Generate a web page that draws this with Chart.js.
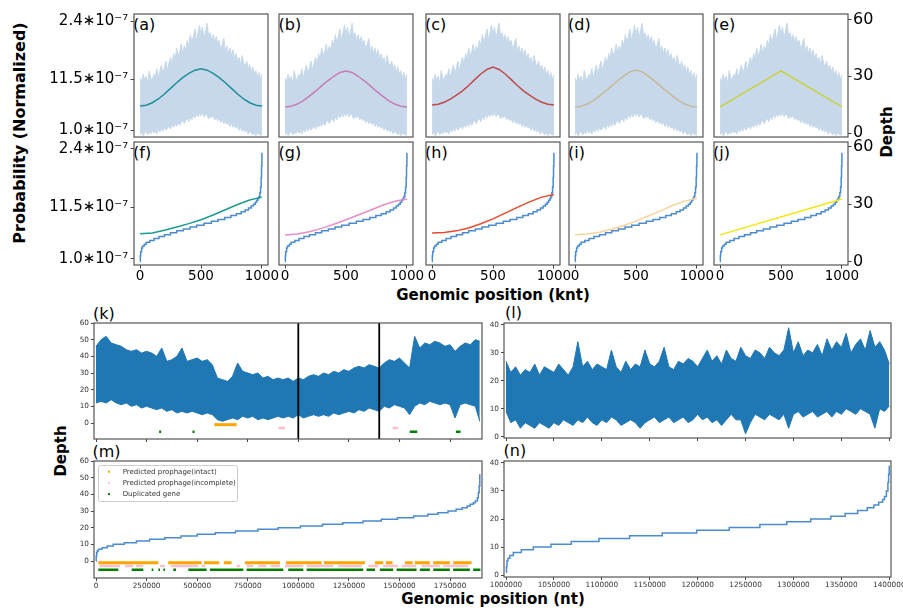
<!DOCTYPE html>
<html>
<head>
<meta charset="utf-8">
<title>Depth and probability</title>
<script src="https://cdn.jsdelivr.net/npm/chart.js@4.4.1/dist/chart.umd.min.js"></script>
<style>
  html, body { margin: 0; padding: 0; background: #fff; }
  body { position: relative; width: 903px; height: 611px; overflow: hidden; font-family: 'DejaVu Sans', sans-serif; }
  canvas { position: absolute; }
  .t { position: absolute; white-space: nowrap; color: #000; line-height: 1; font-size: 16px; }
  .b { font-weight: bold; font-size: 15px; }
  .c { transform: translate(-50%, -50%); }
  .r { transform: translate(-50%, -50%) rotate(-90deg); }
</style>
</head>
<body>
<div class="t b r" style="left:20px;top:133px;font-size:16px">Probability (Normalized)</div>
<div class="t b r" style="left:887px;top:132px">Depth</div>
<div class="t b c" style="left:493px;top:294.5px">Genomic position (knt)</div>
<div class="t b r" style="left:61px;top:451px">Depth</div>
<div class="t b c" style="left:493px;top:599px">Genomic position (nt)</div>

<div class="t" style="left:133px;top:16.7px">(a)</div>
<div class="t" style="left:278.5px;top:16.7px">(b)</div>
<div class="t" style="left:425px;top:16.7px">(c)</div>
<div class="t" style="left:568px;top:16.7px">(d)</div>
<div class="t" style="left:713px;top:16.7px">(e)</div>
<div class="t" style="left:133px;top:145.4px">(f)</div>
<div class="t" style="left:278.5px;top:145.4px">(g)</div>
<div class="t" style="left:425px;top:145.4px">(h)</div>
<div class="t" style="left:568px;top:145.4px">(i)</div>
<div class="t" style="left:713px;top:145.4px">(j)</div>
<div class="t" style="left:93px;top:305.7px">(k)</div>
<div class="t" style="left:505px;top:304.7px">(l)</div>
<div class="t" style="left:92.5px;top:443.7px">(m)</div>
<div class="t" style="left:503.5px;top:442.7px">(n)</div>

<script>
// ---------- top rows: simulated genomes, position in knt ----------
const bandX = [0, 12.5, 25, 37.5, 50, 62.5, 75, 87.5, 100, 112.5,
  125, 137.5, 150, 162.5, 175, 187.5, 200, 212.5, 225, 237.5,
  250, 262.5, 275, 287.5, 300, 312.5, 325, 337.5, 350, 362.5,
  375, 387.5, 400, 412.5, 425, 437.5, 450, 462.5, 475, 487.5,
  500, 512.5, 525, 537.5, 550, 562.5, 575, 587.5, 600, 612.5,
  625, 637.5, 650, 662.5, 675, 687.5, 700, 712.5, 725, 737.5,
  750, 762.5, 775, 787.5, 800, 812.5, 825, 837.5, 850, 862.5,
  875, 887.5, 900, 912.5, 925, 937.5, 950, 962.5, 975, 987.5,
  1000];
const bandHi = [29, 27, 31, 28, 30, 26, 33, 29, 28, 31,
  30, 34, 29, 33, 36, 31, 35, 38, 33, 37,
  40, 36, 42, 39, 45, 41, 43, 47, 42, 46,
  44, 49, 46, 52, 48, 51, 55, 49, 53, 57,
  52, 56, 50, 54, 58, 51, 53, 49, 52, 48,
  51, 47, 49, 44, 47, 50, 43, 46, 42, 45,
  41, 44, 39, 42, 38, 40, 36, 41, 37, 35,
  38, 34, 36, 32, 35, 31, 33, 29, 32, 28,
  31];
const bandLo = [-1, 0.5, -1.5, 0, 1, -1, 0.5, -0.5, 1.5, 0,
  1, -0.5, 2, 0.5, 2.5, 1, 3, 1.5, 2.5, 4,
  2, 4.5, 3, 5, 3.5, 6, 4, 5.5, 7, 5,
  6.5, 8, 6, 8.5, 7, 9.5, 8, 10, 8.5, 10.5,
  9, 11, 8.5, 10, 9.5, 7.5, 9, 8, 9.5, 7,
  8, 6.5, 7.5, 5.5, 7, 5, 6, 4.5, 5.5, 3.5,
  5, 3, 4, 2.5, 3.5, 1.5, 3, 1, 2, 0.5,
  1.5, -0.5, 1, 0, -1, 0.5, -1.5, 0, -0.5, -1,
  -1];

const bellX = [0, 50, 100, 150, 200, 250, 300, 350, 400, 450, 500,
  550, 600, 650, 700, 750, 800, 850, 900, 950, 1000];
const bellA = [14.3, 14.7, 16.0, 18.0, 20.6, 23.6, 26.6, 29.3, 31.5, 33.2, 33.9,
  33.2, 31.5, 29.3, 26.6, 23.6, 20.6, 18.0, 16.0, 14.7, 14.3];
const bellB = [13.8, 14.2, 15.3, 17.1, 19.5, 22.1, 24.9, 27.6, 30.0, 32.0, 32.8,
  32.0, 30.0, 27.6, 24.9, 22.1, 19.5, 17.1, 15.3, 14.2, 13.8];
const bellC = [14.8, 15.2, 16.3, 17.9, 20.0, 22.3, 25.1, 28.2, 31.2, 33.6, 34.9,
  33.6, 31.2, 28.2, 25.1, 22.3, 20.0, 17.9, 16.3, 15.2, 14.8];
const bellD = [13.8, 14.2, 15.3, 17.1, 19.5, 22.1, 24.9, 27.6, 30.2, 32.3, 33.3,
  32.3, 30.2, 27.6, 24.9, 22.1, 19.5, 17.1, 15.3, 14.2, 13.8];
const triX = [0, 500, 1000];
const triE = [13.8, 32.8, 13.8];

// sorted depth (staircase), breakpoints
const sortX = [0, 2, 5, 12, 20, 35, 50, 80, 115, 155, 200, 250, 300, 355, 410, 465, 525,
  585, 640, 695, 745, 790, 830, 862, 890, 912, 930, 945, 957, 967, 975, 983, 989, 994, 997, 1000];
const sortDepth = [0, 3, 5, 7, 8, 9, 10, 11, 12, 13, 14, 15, 16, 17, 18, 19, 20,
  21, 22, 23, 24, 25, 26, 27, 28, 29, 30, 31, 32, 33, 34, 36, 39, 44, 50, 57];

// sorted probability curves
const sigX = [0, 100, 200, 300, 400, 500, 600, 700, 800, 900, 1000];
const sigF = [14.5, 14.9, 16.3, 18.0, 19.8, 21.8, 24.3, 27.1, 29.8, 32.2, 33.7];
const sigG = [13.8, 14.3, 15.5, 17.3, 19.5, 21.8, 24.3, 26.8, 29.4, 31.5, 32.7];
const sigH = [14.9, 15.1, 16.0, 17.5, 19.7, 22.3, 25.3, 28.3, 31.2, 33.7, 35.1];
const sigI = [14.0, 14.3, 15.3, 16.8, 18.8, 21.1, 23.8, 26.5, 29.3, 31.6, 33.1];
const linX = [0, 1000];
const linJ = [13.9, 32.7];

const kntTicks = [0, 500, 1000];
const depthTicks = [0, 30, 60];
const probTickPos = [59, 28.4, 1.4];
const probLabels = ['2.4\u221710\u207B\u2077', '11.5\u221710\u207B\u2077', '1.0\u221710\u207B\u2077'];

// ---------- bottom: real genome, position in nt ----------
const kX = [0, 25000, 50000, 75000, 100000, 125000, 150000, 175000, 200000, 225000,
  250000, 275000, 300000, 325000, 350000, 375000, 400000, 425000, 450000, 475000,
  500000, 525000, 550000, 575000, 600000, 625000, 650000, 675000, 700000, 725000,
  750000, 775000, 800000, 825000, 850000, 875000, 900000, 925000, 950000, 975000,
  1000000, 1025000, 1050000, 1075000, 1100000, 1125000, 1150000, 1175000, 1200000, 1225000,
  1250000, 1275000, 1300000, 1325000, 1350000, 1375000, 1400000, 1425000, 1450000, 1475000,
  1500000, 1525000, 1550000, 1575000, 1600000, 1625000, 1650000, 1675000, 1700000, 1725000,
  1750000, 1775000, 1800000, 1825000, 1850000, 1875000, 1897000];
const kHi = [46, 50, 52, 48, 47, 46, 44, 43, 44, 42,
  43, 42, 40, 45, 37, 38, 40, 45, 37, 38,
  39, 37, 38, 35, 27, 26, 25, 28, 36, 31,
  30, 29, 30, 27, 28, 26, 27, 26, 27, 25,
  27, 26, 28, 29, 28, 30, 29, 31, 30, 32,
  31, 33, 34, 33, 35, 34, 33, 36, 38, 37,
  39, 36, 33, 52, 45, 48, 47, 49, 48, 46,
  47, 43, 46, 48, 47, 50, 49];
const kLo = [12, 13, 12, 14, 12, 11, 12, 10, 11, 9,
  10, 9, 8, 9, 7, 8, 6, 7, 6, 7,
  6, 5, 6, 5, 2, 1, 2, 3, 2, 4,
  3, 4, 2, 3, 2, 3, 4, 3, 4, 3,
  5, 3, 4, 5, 4, 5, 4, 6, 5, 6,
  7, 6, 8, 7, 9, 8, 7, 10, 9, 11,
  10, 9, 5, 10, 12, 11, 13, 12, 11, 12,
  11, 3, 11, 12, 11, 10, 1];
const zoomLines = [1000000, 1400000];

const kIntact = [[584700, 695000]];
const kIncomplete = [[902000, 934000], [1466000, 1494000]];
const kDup = [[312000, 322000], [477000, 487000], [1551000, 1588000], [1779000, 1802000]];

const mSortX = [0, 1000, 3000, 6000, 12000, 30000, 55000, 85000,
  140000, 200000, 265000, 340000, 420000, 500000, 590000, 690000, 800000, 900000,
  1010000, 1120000, 1220000, 1320000, 1410000, 1490000, 1570000, 1640000, 1690000, 1740000,
  1780000, 1810000, 1835000, 1850000, 1865000, 1875000, 1885000, 1890000, 1894000, 1897000];
const mSortDepth = [0, 3, 5, 6, 7, 8, 9, 10,
  11, 12, 13, 14, 15, 16, 17, 18, 19, 20,
  21, 22, 23, 24, 25, 26, 27, 28, 29, 30,
  31, 32, 33, 34, 35, 36, 38, 41, 45, 52];
const mIntact = [[11500, 308000], [357000, 522000], [534000, 609000], [632000, 670000],
  [736000, 909000], [939000, 1115000], [1127000, 1329000], [1379000, 1420000],
  [1433000, 1466000], [1527000, 1565000], [1576000, 1650000], [1667000, 1749000], [1766000, 1856000]];
const mIncomplete = [[16500, 118600], [143300, 184500], [197600, 233900], [316200, 340900],
  [369000, 505600], [522000, 538600], [695000, 711800], [744500, 777400], [802100, 843300],
  [863000, 909000], [934000, 1024800], [1041300, 1173000], [1197700, 1313000], [1346300, 1395700],
  [1420000, 1494000], [1510600, 1583000], [1609000, 1699800], [1716000, 1840000]];
const mDup = [[11500, 110300], [176200, 233900], [275000, 283300], [308000, 316200],
  [332700, 340900], [382100, 395300], [456200, 546800], [563300, 728000], [744500, 925700],
  [950300, 1024800], [1041300, 1321000], [1337500, 1379000], [1403000, 1469000],
  [1485600, 1584400], [1600900, 1650300], [1666800, 1749200], [1765600, 1848000], [1864000, 1900000]];

const lX = [1000000, 1005000, 1010000, 1015000, 1020000, 1025000, 1030000, 1035000, 1040000, 1045000,
  1050000, 1055000, 1060000, 1065000, 1070000, 1075000, 1080000, 1085000, 1090000, 1095000,
  1100000, 1105000, 1110000, 1115000, 1120000, 1125000, 1130000, 1135000, 1140000, 1145000,
  1150000, 1155000, 1160000, 1165000, 1170000, 1175000, 1180000, 1185000, 1190000, 1195000,
  1200000, 1205000, 1210000, 1215000, 1220000, 1225000, 1230000, 1235000, 1240000, 1245000,
  1250000, 1255000, 1260000, 1265000, 1270000, 1275000, 1280000, 1285000, 1290000, 1295000,
  1300000, 1305000, 1310000, 1315000, 1320000, 1325000, 1330000, 1335000, 1340000, 1345000,
  1350000, 1355000, 1360000, 1365000, 1370000, 1375000, 1380000, 1385000, 1390000, 1395000,
  1400000];
const lHi = [27, 23, 25, 22, 24, 23, 26, 22, 25, 24,
  23, 26, 24, 22, 25, 34, 25, 27, 24, 26,
  25, 24, 31, 25, 23, 27, 24, 26, 25, 31,
  26, 25, 27, 32, 25, 24, 27, 26, 28, 27,
  25, 28, 31, 27, 29, 26, 31, 28, 27, 32,
  29, 28, 31, 30, 28, 32, 30, 29, 31, 39,
  30, 34, 29, 31, 30, 33, 29, 35, 31, 34,
  32, 37, 30, 33, 35, 31, 38, 32, 34, 31,
  26];
const lLo = [9, 5, 6, 3, 5, 4, 3, 5, 4, 3,
  5, 4, 6, 5, 4, 6, 5, 7, 5, 4,
  6, 5, 7, 6, 4, 5, 6, 5, 3, 5,
  6, 7, 5, 6, 7, 5, 6, 7, 5, 6,
  8, 6, 7, 5, 6, 4, 6, 8, 6, 6,
  1, 5, 8, 7, 6, 8, 7, 6, 8, 3,
  8, 9, 7, 8, 9, 7, 8, 9, 7, 9,
  8, 10, 9, 8, 10, 9, 8, 3, 10, 9,
  11];

const nSortX = [1000000, 1000500, 1001000, 1002000, 1004000, 1007600, 1016000, 1028500,
  1047000, 1068000, 1097000, 1129000, 1163000, 1199000, 1233000, 1265000, 1293000, 1318000,
  1339000, 1354000, 1367000, 1377000, 1384000, 1389000, 1393000, 1395000,
  1397000, 1398600, 1399300, 1400000];
const nSortDepth = [1, 3, 5, 6, 7, 8, 9, 10,
  11, 12, 13, 14, 15, 16, 17, 18, 19, 20,
  21, 22, 23, 24, 25, 26, 27, 28,
  30, 33, 36, 39];

const genomeTicks = [0, 250000, 500000, 750000, 1000000, 1250000, 1500000, 1750000];
const zoomTicks = [1000000, 1050000, 1100000, 1150000, 1200000, 1250000, 1300000, 1350000, 1400000];
const depthTicks60 = [0, 10, 20, 30, 40, 50, 60];
const depthTicks40 = [0, 10, 20, 30, 40];
const legendLabels = ['Predicted prophage(intact)', 'Predicted prophage(incomplete)', 'Duplicated gene'];

// ---------- drawing ----------
// room round each plot box; a shown axis takes that room instead of padding
const M = { l: 120, t: 30, r: 45, b: 30 };
const bandColor = '#c6d8ea';
const depthBlue = '#1f77b4';
const stairBlue = '#4b8cd0';
const markColors = ['#ffa500', '#ffc0cb', '#008000'];

// frame round every plot area
Chart.register({
  id: 'frame',
  afterDraw(chart) {
    const a = chart.chartArea, ctx = chart.ctx;
    ctx.save();
    ctx.strokeStyle = '#555';
    ctx.lineWidth = 1.2;
    ctx.strokeRect(a.left, a.top, a.right - a.left, a.bottom - a.top);
    ctx.restore();
  }
});

// little legend inside panel (m)
Chart.register({
  id: 'legendBox',
  afterDraw(chart, args, opts) {
    if (!opts.labels) return;
    const a = chart.chartArea, ctx = chart.ctx;
    const x = a.left + 4, y = a.top + 4;
    ctx.save();
    ctx.fillStyle = 'rgba(255,255,255,0.85)';
    ctx.strokeStyle = '#cccccc';
    ctx.lineWidth = 1;
    ctx.beginPath();
    ctx.roundRect(x + 0.5, y + 0.5, 139, 36, 2);
    ctx.fill();
    ctx.stroke();
    ctx.font = '7px "DejaVu Sans"';
    ctx.textBaseline = 'middle';
    opts.labels.forEach((txt, i) => {
      const cy = y + 6.7 + i * 11.2;
      ctx.fillStyle = opts.colors[i];
      ctx.fillRect(x + 10, cy - 1, 2, 2);
      ctx.fillStyle = '#333';
      ctx.fillText(txt, x + 24.7, cy);
    });
    ctx.restore();
  }
});

function line(xs, ys, color, width) {
  return {
    data: xs.map((x, i) => ({ x: x, y: ys[i] })),
    borderColor: color, borderWidth: width, pointRadius: 0, fill: false
  };
}

function band(xs, lo, hi, color) {
  const low = line(xs, lo, color, 1);
  const high = line(xs, hi, color, 1);
  high.fill = '-1';
  high.backgroundColor = color;
  return [low, high];
}

function segs(list, y, color, width) {
  const data = [];
  list.forEach(s => {
    data.push({ x: s[0], y: y }, { x: s[1], y: y }, { x: s[1], y: null });
  });
  return { data: data, borderColor: color, borderWidth: width, pointRadius: 0, spanGaps: false, borderCapStyle: 'butt' };
}

function vlines(xs, lo, hi) {
  const data = [];
  xs.forEach(v => { data.push({ x: v, y: lo }, { x: v, y: hi }, { x: v, y: null }); });
  return { data: data, borderColor: '#000', borderWidth: 1.8, pointRadius: 0, spanGaps: false };
}

function scale(pos, min, max, ticks, o) {
  o = o || {};
  return {
    type: 'linear', position: pos, min: min, max: max,
    display: !!o.show,
    afterFit: s => {
      if (!o.show) return;
      if (pos === 'left') s.width = M.l;
      else if (pos === 'right') s.width = M.r;
      else s.height = M.b;
    },
    afterBuildTicks: s => { s.ticks = ticks.map(v => ({ value: v })); },
    border: { display: false },
    grid: { drawOnChartArea: false, drawTicks: true, tickLength: o.tl || 3.5, tickColor: '#444', tickWidth: 1 },
    ticks: {
      display: !!o.labels, autoSkip: false, maxRotation: 0, minRotation: 0,
      padding: o.pad || 0, color: o.color || '#000',
      font: { family: 'DejaVu Sans', size: o.size || 14 },
      callback: (v, i) => (Array.isArray(o.labels) ? o.labels[i] : String(v))
    }
  };
}

function panel(box, datasets, scales, plugins) {
  const c = document.createElement('canvas');
  const w = box.w + M.l + M.r, h = box.h + M.t + M.b;
  c.width = w;
  c.height = h;
  c.style.left = (box.x - M.l) + 'px';
  c.style.top = (box.y - M.t) + 'px';
  document.body.appendChild(c);
  const shown = Object.values(scales).filter(s => s.display).map(s => s.position);
  return new Chart(c, {
    type: 'line',
    data: { datasets: datasets },
    options: {
      responsive: false, animation: false, events: [],
      layout: { padding: {
        left: shown.includes('left') ? 0 : M.l,
        top: M.t,
        right: shown.includes('right') ? 0 : M.r,
        bottom: shown.includes('bottom') ? 0 : M.b
      } },
      plugins: Object.assign({ legend: { display: false }, tooltip: { enabled: false } }, plugins || {}),
      scales: scales
    }
  });
}

// top two rows
const colLeft = [134, 279, 426, 569, 714];
const cols = [
  { top: [bellX, bellA], topColor: '#1f8f9a', low: [sigX, sigF], lowColor: '#1a9a8c' },
  { top: [bellX, bellB], topColor: '#c77bb8', low: [sigX, sigG], lowColor: '#e88cc8' },
  { top: [bellX, bellC], topColor: '#c24a4a', low: [sigX, sigH], lowColor: '#ea4a2c' },
  { top: [bellX, bellD], topColor: '#c6b99a', low: [sigX, sigI], lowColor: '#f6d39c' },
  { top: [triX, triE], topColor: '#c9d23c', low: [linX, linJ], lowColor: '#f3e60a' }
];

cols.forEach((col, i) => {
  const first = i === 0, last = i === cols.length - 1;
  const probOpt = first ? { show: true, labels: probLabels, size: 15, pad: 2.2 } : {};
  const depthOpt = last ? { show: true, labels: true, size: 16, pad: 1.5 } : {};

  panel({ x: colLeft[i], y: 14, w: 134, h: 123 },
    [line(col.top[0], col.top[1], col.topColor, 1.5)].concat(band(bandX, bandLo, bandHi, bandColor)),
    {
      x: scale('bottom', -50, 1050, kntTicks, {}),
      y: scale('left', -2.1, 62.9, probTickPos, probOpt),
      y2: scale('right', -2.1, 62.9, depthTicks, depthOpt)
    });

  const stair = line(sortX, sortDepth, stairBlue, 1.5);
  stair.stepped = true;
  panel({ x: colLeft[i], y: 142, w: 134, h: 123 },
    [line(col.low[0], col.low[1], col.lowColor, 1.5), stair],
    {
      x: scale('bottom', -50, 1050, kntTicks, { show: true, labels: true, size: 13.5, pad: 0 }),
      y: scale('left', -1.9, 62.6, probTickPos, probOpt),
      y2: scale('right', -1.9, 62.6, depthTicks, depthOpt)
    });
});

// (k) whole genome depth
panel({ x: 94, y: 323, w: 388, h: 116 },
  [vlines(zoomLines, -9.6, 60),
   segs(kIntact, -1, markColors[0], 3),
   segs(kIncomplete, -3, markColors[1], 2.5),
   segs(kDup, -5.3, markColors[2], 2.5)].concat(band(kX, kLo, kHi, depthBlue)),
  {
    x: scale('bottom', -9900, 1908000, genomeTicks, { show: true, tl: 3 }),
    y: scale('left', -9.6, 60, depthTicks60, { show: true, labels: true, size: 7.3, tl: 3, pad: 2, color: '#333' })
  });

// (m) whole genome sorted
const mStair = line(mSortX, mSortDepth, stairBlue, 1.5);
mStair.stepped = true;
panel({ x: 94, y: 461, w: 388, h: 117 },
  [mStair,
   segs(mIntact, -1, markColors[0], 3),
   segs(mIncomplete, -3, markColors[1], 2.5),
   segs(mDup, -5.3, markColors[2], 2.5)],
  {
    x: scale('bottom', -9900, 1908000, genomeTicks, { show: true, labels: true, size: 7.3, tl: 3, pad: 1, color: '#333' }),
    y: scale('left', -10.2, 60, depthTicks60, { show: true, labels: true, size: 7.3, tl: 3, pad: 2, color: '#333' })
  },
  { legendBox: { labels: legendLabels, colors: markColors } });

// (l) zoomed region depth
panel({ x: 504, y: 323, w: 387, h: 115 },
  band(lX, lLo, lHi, depthBlue),
  {
    x: scale('bottom', 997900, 1401800, zoomTicks, { show: true, tl: 3 }),
    y: scale('left', -0.5, 40.7, depthTicks40, { show: true, labels: true, size: 7.3, tl: 3, pad: 2, color: '#333' })
  });

// (n) zoomed region sorted
const nStair = line(nSortX, nSortDepth, stairBlue, 1.5);
nStair.stepped = true;
panel({ x: 504, y: 461, w: 387, h: 116 },
  [nStair],
  {
    x: scale('bottom', 997900, 1401800, zoomTicks, { show: true, labels: true, size: 7.3, tl: 3, pad: 1, color: '#333' }),
    y: scale('left', -0.7, 40.7, depthTicks40, { show: true, labels: true, size: 7.3, tl: 3, pad: 2, color: '#333' })
  });
</script>
</body>
</html>
